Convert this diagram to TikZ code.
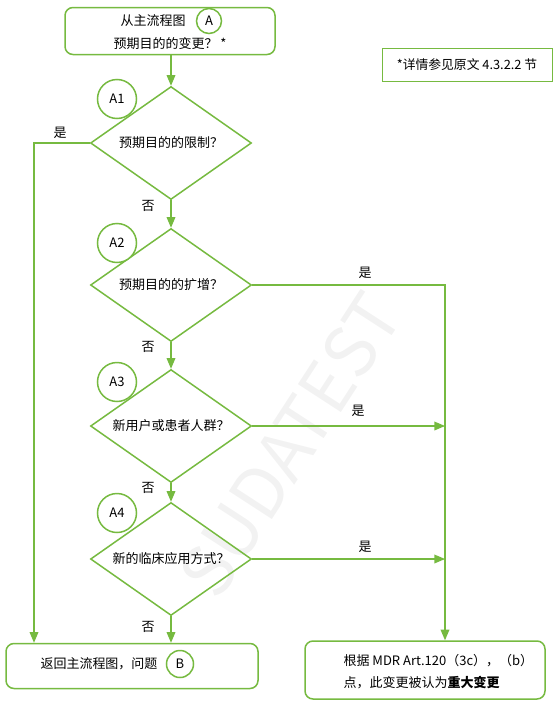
\documentclass[tikz,border=0pt]{standalone}
\usepackage{fontspec}
\setmainfont{Noto Sans CJK SC}
\usetikzlibrary{arrows,shapes.geometric}
\definecolor{flowgreen}{RGB}{118,186,64}

\begin{document}
\begin{tikzpicture}[x=1pt,y=-1pt,
	every node/.style={font=\fontsize{13}{22}\selectfont},
	flowbox/.style={draw=flowgreen,line width=1.5pt,rounded corners=8pt,fill=white},
	question/.style={diamond,draw=flowgreen,line width=1.5pt,aspect=1.42,inner sep=0pt,
		minimum width=161pt,minimum height=113pt},
	tag/.style={circle,draw=flowgreen,line width=1.5pt,fill=white,inner sep=0pt,minimum size=#1},
	flow/.style={draw=flowgreen,line width=1.5pt,-triangle 45},
	plain/.style={draw=flowgreen,line width=1.5pt}]
			\useasboundingbox (0,0) rectangle (556,707);
			% watermark
			\node[rotate=57,text=black!5,font=\fontsize{70}{70}\selectfont] (mark) at (290,445) {SUDATEST};
			% boxes
			\node[flowbox,minimum width=210pt,minimum height=47pt] (start) at (170,31) {};
			\node (startone) at (153,21) {从主流程图};
			\node (starttwo) at (170,44) {预期目的的变更？ *};
			\node[tag=25pt] (tagA) at (209,21) {A};
			\node[draw=flowgreen,line width=1pt,minimum width=170pt,minimum height=33pt,
				font=\fontsize{12.8}{14}\selectfont] (note) at (467,65) {*详情参见原文 4.3.2.2 节};
			\node[flowbox,minimum width=252pt,minimum height=45pt] (ret) at (132,666) {};
			\node (rettext) at (99,664) {返回主流程图，问题};
			\node[tag=27pt] (tagB) at (180,664) {B};
			\node[flowbox,minimum width=240pt,minimum height=58pt] (sig) at (425,670) {};
			\node[anchor=west,align=left] (sigtext) at (340,672) {根据 MDR Art.120（3c），（b）\\点，此变更被认为\textbf{重大变更}};
			% questions
			\node[question] (d1) at (171,143) {预期目的的限制？};
			\node[question] (d2) at (171,285) {预期目的的扩增？};
			\node[question] (d3) at (171,426) {新用户或患者人群？};
			\node[question] (d4) at (171,559) {新的临床应用方式？};
			\node[tag=39pt] (a1) at (117,99) {A1};
			\node[tag=39pt] (a2) at (117,243) {A2};
			\node[tag=39pt] (a3) at (117,382) {A3};
			\node[tag=39pt] (a4) at (117,513) {A4};
			% connectors
			\coordinate (yesleft) at (34,0);
			\coordinate (yesright) at (445,0);
			\draw[flow] (start.south -| d1.north) -- (d1.north);
			\draw[flow] (d1.south) -- (d2.north);
			\draw[flow] (d2.south) -- (d3.north);
			\draw[flow] (d3.south) -- (d4.north);
			\draw[flow] (d4.south) -- (d4.south |- ret.north);
			\draw[flow] (d1.west) -| (yesleft |- ret.north);
			\draw[flow] (d2.east) -| (yesright |- sig.north);
			\draw[flow] (d3.east) -- (yesright |- d3.east);
			\draw[flow] (d4.east) -- (yesright |- d4.east);
			% labels
			\node (y1) at (60,133) {是};
			\node (y2) at (365,273) {是};
			\node (y3) at (358,411) {是};
			\node (y4) at (365,547) {是};
			\node (n1) at (148,206) {否};
			\node (n2) at (148,347) {否};
			\node (n3) at (148,488) {否};
			\node (n4) at (148,627) {否};
		\end{tikzpicture}
\end{document}
